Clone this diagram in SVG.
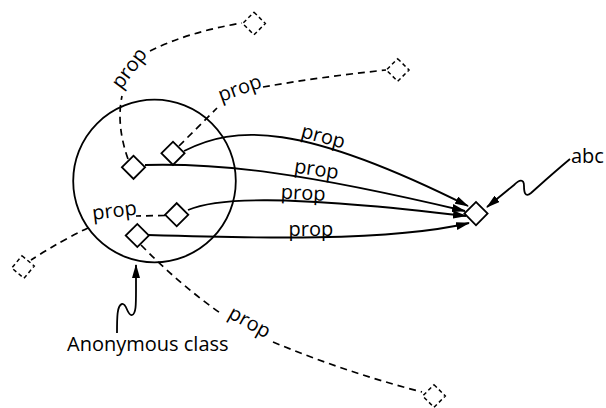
<svg xmlns="http://www.w3.org/2000/svg" width="606" height="408" viewBox="0 0 606 408">
<style>
.solid{fill:none;stroke:#000;stroke-width:1.8}
.dash{fill:none;stroke:#000;stroke-width:1.7;stroke-dasharray:7 5}
.node{fill:#fff;stroke:#000;stroke-width:1.8}
.ghost{fill:#fff;stroke:#000;stroke-width:1.5;stroke-dasharray:4 3}
.lbl{font-family:"Open Sans","Liberation Sans",sans-serif;font-size:20px;fill:#000}
</style>
<defs>
<marker id="ah" markerWidth="14" markerHeight="8" refX="13" refY="4" orient="auto" markerUnits="userSpaceOnUse">
<path d="M0,0 L14,4 L0,8 z" fill="#000"/>
</marker>
</defs>
<rect width="606" height="408" fill="#fff"/>
<g id="anonymous-class">
<circle class="solid" cx="154.5" cy="181" r="81.3"/>
</g>
<g id="connectors">
<path class="dash" d="M128,159 Q116,125 122,96"/>
<path class="dash" d="M150,51 Q188,32 242,23"/>
<path class="dash" d="M179,146 Q198,127 217,108"/>
<path class="dash" d="M263,87 Q320,77 386,70"/>
<path class="dash" d="M165,215.5 L136,216"/>
<path class="dash" d="M88,228 Q62,240 31,260"/>
<path class="dash" d="M141,245 Q180,285 223,315"/>
<path class="dash" d="M273,342 Q345,372 422,392"/>
<path class="solid" d="M184,151 C235,125 300,122 468,206" marker-end="url(#ah)"/>
<path class="solid" d="M145,165 C220,163 300,172 465,211" marker-end="url(#ah)"/>
<path class="solid" d="M188,210 C215,198 280,194 466,216" marker-end="url(#ah)"/>
<path class="solid" d="M148,235 C250,238 390,242 469,223" marker-end="url(#ah)"/>
<path class="solid" d="M570,159 C552,174 540,185 531,193 C525,198 524,192 524,186 C524,178 519,180 514,185 L487,207" marker-end="url(#ah)"/>
<path class="solid" d="M117,333 C117,318 117,305 122,304 C127,303 127,316 132,315 C136,314 136,305 136,290 L136,265" marker-end="url(#ah)"/>
<text class="lbl" transform="translate(121,90) rotate(-53)">prop</text>
<text class="lbl" transform="translate(221,102) rotate(-20)">prop</text>
<text class="lbl" transform="translate(300,137) rotate(15)">prop</text>
<text class="lbl" transform="translate(293.5,172.5) rotate(8.5)">prop</text>
<text class="lbl" transform="translate(280.5,198.5) rotate(3)">prop</text>
<text class="lbl" x="288.5" y="236">prop</text>
<text class="lbl" transform="translate(93,220) rotate(-7)">prop</text>
<text class="lbl" transform="translate(227,317) rotate(29)">prop</text>
</g>
<g id="node-a"><rect class="node" x="-8.2" y="-8.2" width="16.4" height="16.4" transform="translate(133.5,167.3) rotate(45)"/></g>
<g id="node-b"><rect class="node" x="-8.2" y="-8.2" width="16.4" height="16.4" transform="translate(173,153.3) rotate(45)"/></g>
<g id="node-c"><rect class="node" x="-8.2" y="-8.2" width="16.4" height="16.4" transform="translate(176.7,214.7) rotate(45)"/></g>
<g id="node-d"><rect class="node" x="-8.2" y="-8.2" width="16.4" height="16.4" transform="translate(137.3,235.5) rotate(45)"/></g>
<g id="node-target"><rect class="node" x="-8.2" y="-8.2" width="16.4" height="16.4" transform="translate(476,213.6) rotate(45)"/></g>
<g id="ghost-1"><rect class="ghost" x="-8" y="-8" width="16" height="16" transform="translate(254,23.5) rotate(45)"/></g>
<g id="ghost-2"><rect class="ghost" x="-8" y="-8" width="16" height="16" transform="translate(397.7,70) rotate(45)"/></g>
<g id="ghost-3"><rect class="ghost" x="-8" y="-8" width="16" height="16" transform="translate(23,267) rotate(40)"/></g>
<g id="ghost-4"><rect class="ghost" x="-8" y="-8" width="16" height="16" transform="translate(434,396) rotate(45)"/></g>
<g id="label-abc"><text class="lbl" x="571" y="163">abc</text></g>
<g id="label-anon"><text class="lbl" x="67" y="351">Anonymous class</text></g>
</svg>
